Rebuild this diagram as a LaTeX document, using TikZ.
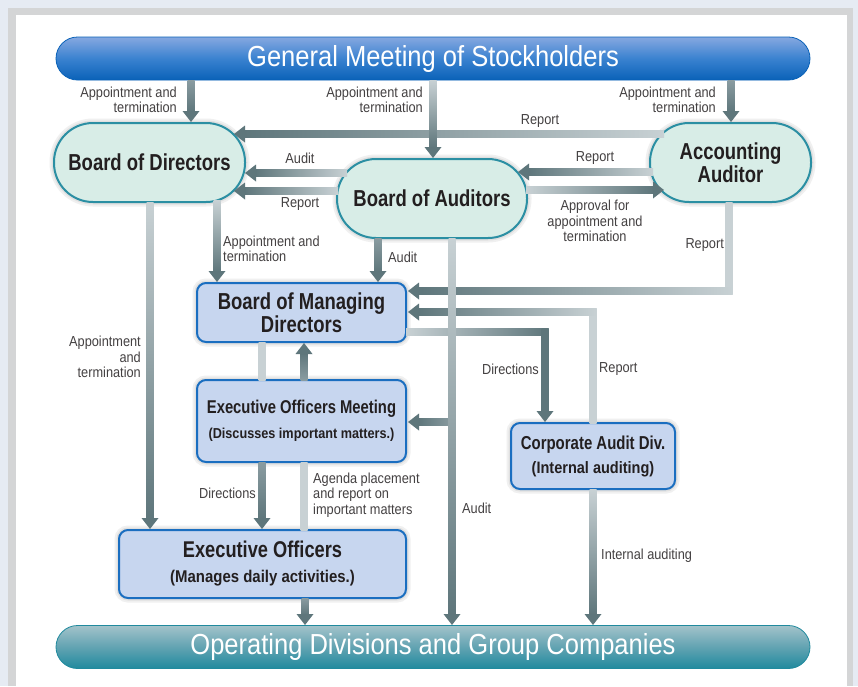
\documentclass[tikz,border=0pt]{standalone}
\usepackage{fontspec}
\setmainfont{Liberation Sans}[FakeStretch=0.88]
\newfontfamily\condb{Liberation Sans}[FakeStretch=0.8]
\usetikzlibrary{calc}
\definecolor{bgout}{HTML}{E6EBF3}
\definecolor{frameg}{HTML}{D4D5D6}
\definecolor{ad}{HTML}{5E767B}
\definecolor{am}{HTML}{8A9CA1}
\definecolor{al}{HTML}{C8D1D4}
\definecolor{txt}{HTML}{231F20}
\definecolor{ovalfill}{HTML}{D8EDE7}
\definecolor{ovalline}{HTML}{2B8FA3}
\definecolor{boxfill}{HTML}{C7D6EF}
\definecolor{boxline}{HTML}{1A6EC0}
\definecolor{gmtop}{HTML}{86A8E0}
\definecolor{gmmid}{HTML}{3A82D0}
\definecolor{gmbot}{HTML}{0A62B8}
\definecolor{optop}{HTML}{A3C3CA}
\definecolor{opmid}{HTML}{62A3B2}
\definecolor{opbot}{HTML}{208A9E}
% gradient connectors: #1 tail, #2 tip, #3 tail colour, #4 tip colour
\newcommand\adown[4]{%
  \shade[top color=#3,bottom color=#4] ($(#1)+(-3.5,0)$) rectangle ($(#2)+(3.5,-10)$);
  \fill[ad] (#2) -- ++(-8.5,-11) -- ++(17,0) -- cycle;}
\newcommand\aup[4]{%
  \shade[top color=#4,bottom color=#3] ($(#2)+(-3.5,10)$) rectangle ($(#1)+(3.5,0)$);
  \fill[ad] (#2) -- ++(-8.5,11) -- ++(17,0) -- cycle;}
\newcommand\aleft[4]{%
  \shade[left color=#4,right color=#3] ($(#2)+(10,-3.5)$) rectangle ($(#1)+(0,3.5)$);
  \fill[ad] (#2) -- ++(11,-8.5) -- ++(0,17) -- cycle;}
\newcommand\aright[4]{%
  \shade[left color=#3,right color=#4] ($(#1)+(0,-3.5)$) rectangle ($(#2)+(-10,3.5)$);
  \fill[ad] (#2) -- ++(-11,-8.5) -- ++(0,17) -- cycle;}
\newcommand\gradv[4]{%
  \shade[top color=#3,bottom color=#4] ($(#1)+(-3.5,0)$) rectangle ($(#2)+(3.5,0)$);}
\newcommand\gradh[4]{%
  \shade[left color=#3,right color=#4] ($(#1)+(0,-3.5)$) rectangle ($(#2)+(0,3.5)$);}
\begin{document}
\begin{tikzpicture}[x=1pt,y=-1pt,
  glow/.style={preaction={draw=black!6,line width=9pt},preaction={draw=black!12,line width=5pt}},
  oval/.style={glow,draw=ovalline,line width=2pt,fill=ovalfill,rounded corners=39pt,
    minimum height=79pt,inner sep=0pt,text=txt,align=center,
    font=\condb\fontsize{23.1}{21.5}\selectfont\bfseries},
  box/.style={glow,draw=boxline,line width=2pt,fill=boxfill,rounded corners=9pt,
    inner sep=0pt,text=txt,align=center},
  bar/.style={minimum width=754pt,minimum height=43pt,rounded corners=21.5pt,inner sep=0pt,
    text=white,font=\fontsize{29}{30}\selectfont,line width=0.8pt},
  lbl/.style={inner sep=0pt,text=txt!85,font=\fontsize{14.5}{15.5}\selectfont}]
\useasboundingbox (0,0) rectangle (858,686);
% background and frame
\fill[bgout] (0,0) rectangle (858,686);
\fill[frameg] (8,8) rectangle (853,686);
\fill[white] (16,15) rectangle (847,686);

% bars
\node[bar,draw=gmbot,top color=gmtop,bottom color=gmbot,middle color=gmmid] (gm) at (433,58.5) {General Meeting of Stockholders};
\node[bar,draw=opbot,top color=optop,bottom color=opbot,middle color=opmid] (op) at (433,647) {Operating Divisions and Group Companies};

% ovals
\node[oval,minimum width=191pt] (bod) at (149.5,162.5) {Board of Directors};
\node[oval,minimum width=190pt] (boa) at (432,198.5) {Board of Auditors};
\node[oval,minimum width=161pt] (aa) at (730.5,162.5) {Accounting\\Auditor};

% boxes
\node[box,minimum width=209pt,minimum height=59pt,font=\condb\fontsize{23.1}{22.5}\selectfont\bfseries] (bmd) at (301.5,312.5) {Board of Managing\\Directors};
\node[box,minimum width=209pt,minimum height=82pt,font=\condb\fontsize{18.5}{25}\selectfont\bfseries] (eom) at (301.5,421)
  {Executive Officers Meeting\\{\normalfont\bfseries\fontsize{14.4}{25}\selectfont (Discusses important matters.)}};
\node[box,minimum width=164pt,minimum height=66pt,font=\condb\fontsize{18.7}{24}\selectfont\bfseries] (cad) at (593,456)
  {Corporate Audit Div.\\{\normalfont\bfseries\fontsize{16.5}{24}\selectfont (Internal auditing)}};
\node[box,minimum width=287pt,minimum height=68pt,font=\condb\fontsize{22.8}{25}\selectfont\bfseries] (eo) at (262.5,564)
  {Executive Officers\\{\normalfont\bfseries\fontsize{17}{25}\selectfont (Manages daily activities.)}};

% connector end points (relative to the nodes)
\coordinate (a1) at ($(gm)+(-242,21.5)$);  \coordinate (b1) at ($(bod)+(41.5,-40.5)$);
\coordinate (a2) at ($(gm)+(0,21.5)$);     \coordinate (b2) at ($(boa)+(1,-40.5)$);
\coordinate (a3) at ($(gm)+(298,21.5)$);   \coordinate (b3) at ($(aa)+(0.5,-40.5)$);
\coordinate (a4) at ($(aa)+(-66.5,-28.5)$); \coordinate (b4) at ($(bod)+(84.5,-28.5)$);
\coordinate (a5) at ($(boa)+(-85,-25.5)$); \coordinate (b5) at ($(bod)+(95.5,10.5)$);
\coordinate (a6) at ($(boa)+(-94,-7.5)$);  \coordinate (b6) at ($(bod)+(84.5,28.5)$);
\coordinate (a7) at ($(aa)+(-77.5,9.5)$);  \coordinate (b7) at ($(boa)+(86,-26.5)$);
\coordinate (a8) at ($(boa)+(94,-8.5)$);   \coordinate (b8) at ($(aa)+(-66.5,27.5)$);
\coordinate (a9) at ($(bod)+(67.5,37.5)$); \coordinate (b9) at ($(bmd)+(-84.5,-30.5)$);
\coordinate (a10) at ($(boa)+(-54,39.5)$); \coordinate (b10) at ($(bmd)+(76.5,-30.5)$);
\coordinate (a11) at ($(aa)+(-1.5,39.5)$); \coordinate (c11) at ($(aa)+(-1.5,132)$);
\coordinate (d11) at ($(aa)+(2,128.5)$);   \coordinate (b11) at ($(bmd)+(106.5,-21.5)$);
\coordinate (a12) at ($(bod)+(0.5,39.5)$); \coordinate (b12) at ($(eo)+(-112.5,-35)$);
\coordinate (a13) at ($(boa)+(20,39.5)$);  \coordinate (b13) at ($(op)+(19,-22)$);
\coordinate (a13b) at ($(boa)+(20,223.5)$); \coordinate (b13b) at ($(eom)+(106.5,1)$);
\coordinate (c14) at ($(cad)+(0,-147.5)$); \coordinate (a14) at ($(cad)+(0,-33)$);
\coordinate (d14) at ($(cad)+(3.5,-144)$); \coordinate (b14) at ($(bmd)+(106.5,-0.5)$);
\coordinate (a15) at ($(bmd)+(104.5,19.5)$); \coordinate (d15) at ($(cad)+(-44.5,-124)$);
\coordinate (c15) at ($(cad)+(-48,-127.5)$); \coordinate (b15) at ($(cad)+(-48,-34)$);
\coordinate (a16) at ($(bmd)+(-39.5,29.5)$); \coordinate (b16) at ($(eom)+(-39.5,-41)$);
\coordinate (a17) at ($(eom)+(2.5,-41)$);  \coordinate (b17) at ($(bmd)+(2.5,30.5)$);
\coordinate (a18) at ($(eom)+(-39.5,41)$); \coordinate (b18) at ($(eo)+(-0.5,-35)$);
\coordinate (a19) at ($(eom)+(2.5,41)$);   \coordinate (b19) at ($(eo)+(41.5,-34)$);
\coordinate (a20) at ($(eo)+(42.5,34)$);   \coordinate (b20) at ($(op)+(-128,-22)$);
\coordinate (a21) at ($(cad)+(0,33)$);     \coordinate (b21) at ($(op)+(160,-22)$);

% connectors
\aleft{a4}{b4}{al}{ad}
\adown{a1}{b1}{am}{ad}
\adown{a2}{b2}{al}{ad}
\adown{a3}{b3}{am}{ad}
\aleft{a5}{b5}{al}{ad}
\aleft{a6}{b6}{al}{ad}
\aleft{a7}{b7}{al}{ad}
\aright{a8}{b8}{al}{ad}
\adown{a9}{b9}{al}{ad}
\adown{a10}{b10}{am}{ad}
\gradv{a11}{c11}{al}{al}
\aleft{d11}{b11}{al}{ad}
\adown{a12}{b12}{al}{ad}
\gradv{c14}{a14}{al}{al}
\aleft{d14}{b14}{al}{ad}
\gradh{a15}{d15}{al}{ad}
\adown{c15}{b15}{ad}{ad}
\aleft{a13b}{b13b}{am}{ad}
\adown{a13}{b13}{al}{ad}
\gradv{a16}{b16}{al}{al}
\aup{a17}{b17}{am}{ad}
\adown{a18}{b18}{am}{ad}
\gradv{a19}{b19}{al}{al}
\adown{a20}{b20}{am}{ad}
\adown{a21}{b21}{al}{ad}

% labels
\node[lbl,align=right,anchor=east] (n1) at (177,100) {Appointment and\\termination};
\node[lbl,align=right,anchor=east] (n2) at (423,100) {Appointment and\\termination};
\node[lbl,align=right,anchor=east] (n3) at (716,100) {Appointment and\\termination};
\node[lbl] (n4) at (540,121) {Report};
\node[lbl] (n5) at (300,158) {Audit};
\node[lbl] (n6) at (300,204) {Report};
\node[lbl] (n7) at (595,158) {Report};
\node[lbl,align=center] (n8) at (595,221) {Approval for\\appointment and\\termination};
\node[lbl,align=left,anchor=west] (n9) at (223,249) {Appointment and\\termination};
\node[lbl,anchor=west] (n10) at (388,257) {Audit};
\node[lbl,anchor=east] (n11) at (724,245) {Report};
\node[lbl,align=right,anchor=east] (n12) at (141,357) {Appointment\\and\\termination};
\node[lbl,anchor=east] (n13) at (539,369) {Directions};
\node[lbl,anchor=west] (n14) at (599,369) {Report};
\node[lbl,anchor=east] (n15) at (256,493) {Directions};
\node[lbl,align=left,anchor=west] (n16) at (313,495) {Agenda placement\\and report on\\important matters};
\node[lbl,anchor=west] (n17) at (462,508) {Audit};
\node[lbl,anchor=west] (n18) at (601,556) {Internal auditing};
\end{tikzpicture}
\end{document}
